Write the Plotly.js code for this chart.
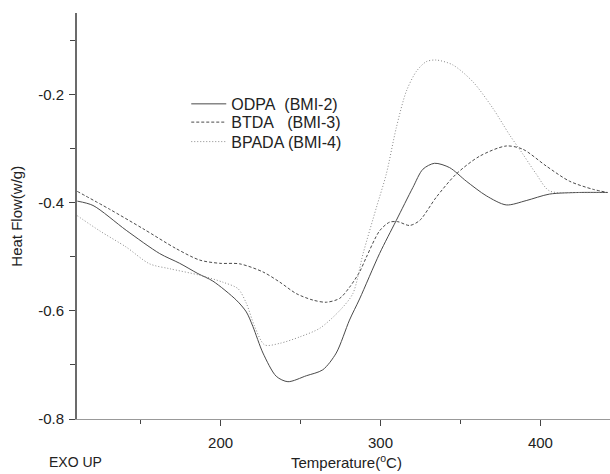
<!DOCTYPE html>
<html>
<head>
<meta charset="utf-8">
<script src="https://cdn.plot.ly/plotly-3.0.1.min.js"></script>
<style>html,body{margin:0;padding:0;background:#fff;}#chart{width:610px;height:474px;}</style>
</head>
<body>
<div id="chart"></div>
<script>
// ODPA (BMI-2) - solid
const odpaT = [110.4, 120.2, 141, 161.9, 174.4, 185.8, 195.2, 209.8, 216.1, 220.2, 226.5, 234.8, 242.1, 253.6, 263.9, 272.3, 280.6, 286.9, 299.4, 309.8, 320.2, 326.5, 333.8, 343.2, 353.6, 366.1, 378.6, 391.1, 405.6, 424.4, 442];
const odpaH = [-0.397, -0.405, -0.451, -0.494, -0.512, -0.531, -0.545, -0.580, -0.602, -0.629, -0.678, -0.721, -0.731, -0.720, -0.709, -0.678, -0.617, -0.578, -0.494, -0.433, -0.372, -0.338, -0.327, -0.335, -0.360, -0.387, -0.404, -0.396, -0.384, -0.381, -0.381];
// BTDA (BMI-3) - dashed
const btdaT = [110.4, 130.6, 151.5, 172.3, 186.9, 199.4, 211.9, 226.5, 237.1, 247.3, 257.7, 266.1, 274.4, 280.7, 286.9, 291.1, 299.4, 305.6, 310.8, 318.1, 324.4, 334.8, 347.3, 361.9, 378.6, 389, 403.6, 418.1, 432.7, 442];
const btdaH = [-0.379, -0.412, -0.448, -0.485, -0.506, -0.512, -0.513, -0.528, -0.547, -0.568, -0.580, -0.584, -0.577, -0.556, -0.528, -0.501, -0.452, -0.436, -0.435, -0.442, -0.433, -0.390, -0.347, -0.314, -0.295, -0.301, -0.332, -0.360, -0.375, -0.381];
// BPADA (BMI-4) - dotted
const bpadaT = [110.4, 124.4, 141, 155.6, 168.1, 186.9, 201.5, 210.9, 216.1, 221.3, 227.6, 237.1, 249.6, 262.1, 274.6, 282.7, 289.1, 297.4, 303.6, 309.8, 316.1, 322.4, 328.6, 334.8, 345.2, 357.7, 370.2, 380.6, 389, 397.4, 405.6, 424.4, 442];
const bpadaH = [-0.424, -0.452, -0.482, -0.513, -0.522, -0.534, -0.547, -0.559, -0.586, -0.629, -0.663, -0.660, -0.648, -0.632, -0.599, -0.568, -0.494, -0.409, -0.347, -0.262, -0.194, -0.157, -0.139, -0.136, -0.145, -0.176, -0.225, -0.274, -0.310, -0.347, -0.378, -0.381, -0.381];

const seriesNames = ['ODPA&#160;&#160;(BMI-2)', 'BTDA&#160;&#160;&#160;(BMI-3)', 'BPADA (BMI-4)'];

const xTickVals = [200, 300, 400];
const xTickText = ['200', '300', '400'];
const yTickVals = [-0.8, -0.6, -0.4, -0.2];
const yTickText = ['-0.8', '-0.6', '-0.4', '-0.2'];

const FONT = 'Liberation Sans, Arial, sans-serif';
const TXT = '#222';

const traces = [
  {x: odpaT, y: odpaH, name: seriesNames[0], mode: 'lines', legend: 'legend',
   line: {color: '#4a4a4a', width: 1, dash: 'solid', shape: 'spline', smoothing: 0.8}},
  {x: btdaT, y: btdaH, name: seriesNames[1], mode: 'lines', legend: 'legend2',
   line: {color: '#4a4a4a', width: 1, dash: '3px,2px', shape: 'spline', smoothing: 0.8}},
  {x: bpadaT, y: bpadaH, name: seriesNames[2], mode: 'lines', legend: 'legend3',
   line: {color: '#8a8a8a', width: 1, dash: '1px,2px', shape: 'spline', smoothing: 0.8}}
];

function leg(y) {
  return {x: 0.205, y: y, xanchor: 'left', yanchor: 'middle',
          bgcolor: 'rgba(0,0,0,0)', borderwidth: 0,
          font: {family: FONT, size: 16, color: TXT}, itemwidth: 35};
}

const layout = {
  width: 610, height: 474,
  margin: {l: 77, r: 0, t: 13, b: 54.5},
  paper_bgcolor: '#fff', plot_bgcolor: '#fff',
  font: {family: FONT, size: 15, color: TXT},
  showlegend: true,
  legend: leg(0.776),
  legend2: leg(0.731),
  legend3: leg(0.683),
  xaxis: {
    range: [110.2, 443.5], showgrid: false, zeroline: false,
    showline: true, linecolor: '#999', linewidth: 1,
    tickmode: 'array', tickvals: xTickVals, ticktext: xTickText,
    ticks: 'outside', ticklen: 6, tickcolor: '#444', tickwidth: 1,
    minor: {tickmode: 'linear', tick0: 0, dtick: 50, ticks: 'outside', ticklen: 4, tickcolor: '#444', tickwidth: 1},
    tickfont: {family: FONT, size: 15, color: TXT},
    ticklabelstandoff: 4
  },
  yaxis: {
    range: [-0.8, -0.049], showgrid: false, zeroline: false,
    showline: true, linecolor: '#6b6b6b', linewidth: 2,
    tickmode: 'array', tickvals: yTickVals, ticktext: yTickText,
    ticks: 'outside', ticklen: 6, tickcolor: '#444', tickwidth: 1,
    minor: {tickmode: 'linear', tick0: 0, dtick: 0.1, ticks: 'outside', ticklen: 5, tickcolor: '#444', tickwidth: 1},
    tickfont: {family: FONT, size: 15, color: TXT},
    ticklabelstandoff: 2
  },
  annotations: [
    {text: 'Heat Flow(w/g)', xref: 'paper', yref: 'paper', x: -0.115, y: 0.5,
     textangle: -90, showarrow: false, xanchor: 'center', yanchor: 'middle',
     font: {family: FONT, size: 15, color: TXT}},
    {text: 'Temperature(<sup>o</sup>C)', xref: 'paper', yref: 'paper', x: 0.505, y: -0.105,
     showarrow: false, xanchor: 'center', yanchor: 'middle',
     font: {family: FONT, size: 15, color: TXT}},
    {text: 'EXO UP', xref: 'paper', yref: 'paper', x: -0.003, y: -0.105,
     showarrow: false, xanchor: 'center', yanchor: 'middle',
     font: {family: FONT, size: 14, color: TXT}}
  ]
};

Plotly.newPlot('chart', traces, layout, {staticPlot: true, displayModeBar: false});
</script>
</body>
</html>
